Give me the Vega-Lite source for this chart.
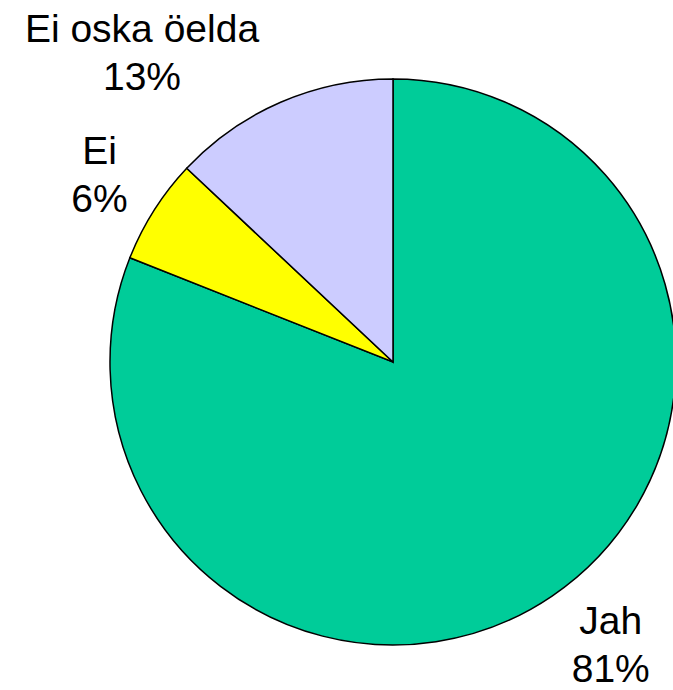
{
  "$schema": "https://vega.github.io/schema/vega-lite/v6.json",
  "width": 560,
  "height": 656,
  "autosize": {"type": "none"},
  "padding": {"left": 113, "top": 34, "right": 0, "bottom": 0},
  "background": "white",
  "view": {"stroke": null},
  "data": {
    "values": [
      {"vastus": "Jah", "protsent": 81, "jrk": 1},
      {"vastus": "Ei", "protsent": 6, "jrk": 2},
      {"vastus": "Ei oska öelda", "protsent": 13, "jrk": 3}
    ]
  },
  "transform": [
    {"calculate": "datum.vastus + '\\n' + datum.protsent + '%'", "as": "silt"}
  ],
  "encoding": {
    "theta": {"field": "protsent", "type": "quantitative", "stack": true},
    "order": {"field": "jrk", "type": "quantitative"}
  },
  "layer": [
    {
      "mark": {"type": "arc", "radius": 283, "stroke": "black", "strokeWidth": 1.5},
      "encoding": {
        "color": {
          "field": "vastus",
          "type": "nominal",
          "scale": {"domain": ["Jah", "Ei", "Ei oska öelda"], "range": ["#00CC99", "#FFFF00", "#CCCCFF"]},
          "legend": null
        }
      }
    },
    {
      "mark": {"type": "text", "radius": 350, "dx": 21, "dy": -29, "font": "Liberation Sans", "fontSize": 39, "lineHeight": 48, "lineBreak": "\n", "align": "center", "baseline": "middle", "color": "black"},
      "encoding": {
        "text": {"condition": {"test": "datum.vastus === 'Jah'", "field": "silt"}, "value": ""}
      }
    },
    {
      "mark": {"type": "text", "radius": 350, "dx": 2, "dy": -22, "font": "Liberation Sans", "fontSize": 39, "lineHeight": 48, "lineBreak": "\n", "align": "center", "baseline": "middle", "color": "black"},
      "encoding": {
        "text": {"condition": {"test": "datum.vastus === 'Ei'", "field": "silt"}, "value": ""}
      }
    },
    {
      "mark": {"type": "text", "radius": 350, "dx": -112, "dy": -11, "font": "Liberation Sans", "fontSize": 39, "lineHeight": 48, "lineBreak": "\n", "align": "center", "baseline": "middle", "color": "black"},
      "encoding": {
        "text": {"condition": {"test": "datum.vastus === 'Ei oska öelda'", "field": "silt"}, "value": ""}
      }
    }
  ]
}
